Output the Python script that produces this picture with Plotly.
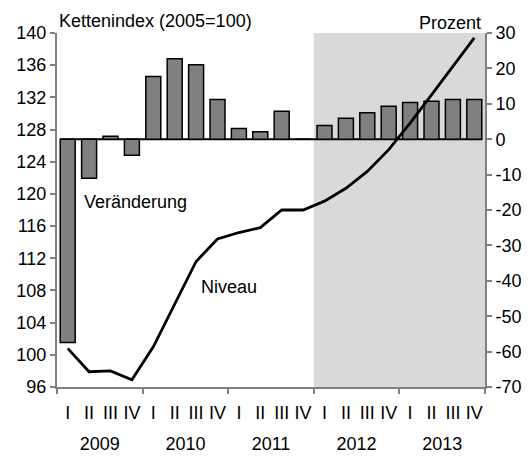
import plotly.graph_objects as go

# quarters 2009 Q1 .. 2013 Q4
years = ["2009", "2010", "2011", "2012", "2013"]
quarters = ["I", "II", "III", "IV"]

# change in percent (right axis)
veraenderung = [-57.4, -11.0, 0.8, -4.5, 17.7, 22.7, 21.0, 11.2,
                3.0, 2.1, 7.9, 0.0, 3.9, 5.9, 7.5, 9.3,
                10.4, 10.7, 11.2, 11.2]
# chain index 2005=100 (left axis)
niveau = [100.8, 97.9, 98.0, 96.9, 101.0, 106.2, 111.6, 114.4,
          115.2, 115.8, 118.0, 118.0, 119.1, 120.7, 122.8, 125.5,
          128.8, 132.3, 135.8, 139.4]

# right axis ticks (plain hyphen as in the original)
pct_ticks = [30, 20, 10, 0, -10, -20, -30, -40, -50, -60, -70]
pct_labels = ["30", "20", "10", "0", "-10", "-20", "-30", "-40", "-50", "-60", "-70"]

n = len(niveau)
xpos = list(range(n))
qlabels = [quarters[i % 4] for i in range(n)]
year_centers = [i * 4 + 1.5 for i in range(len(years))]
year_bounds = [i * 4 - 0.5 for i in range(len(years) + 1)]

font = "Liberation Sans, Arial, sans-serif"
gray = "#808080"
fs = 18

fig = go.Figure()

# bars on the percent axis (y), line on the index axis (y2) so it sits on top
fig.add_trace(go.Bar(
    x=xpos, y=veraenderung, width=0.7,
    marker=dict(color=gray, line=dict(color="black", width=1.5)),
    xaxis="x", yaxis="y",
))
fig.add_trace(go.Scatter(
    x=xpos, y=niveau, mode="lines",
    line=dict(color="black", width=2.8),
    xaxis="x", yaxis="y2",
))

# dummy traces so the extra x axes get drawn
fig.add_trace(go.Scatter(x=[None], y=[None], xaxis="x2", yaxis="y", showlegend=False))
fig.add_trace(go.Scatter(x=[None], y=[None], xaxis="x3", yaxis="y", showlegend=False))

xr = [-0.5, n - 0.5]
common = dict(showgrid=False, zeroline=False, automargin=False)
# page body has an 8px margin, so the figure is a bit smaller than the window
fig.update_layout(
    width=523, height=448,
    margin=dict(l=49, r=46, t=25, b=69),
    paper_bgcolor="white", plot_bgcolor="white",
    showlegend=False,
    font=dict(family=font, size=fs, color="black"),
    xaxis=dict(range=xr, tickvals=year_bounds, ticktext=[""] * len(year_bounds),
               ticks="outside", ticklen=5, tickcolor=gray, tickwidth=1.5,
               showline=True, linecolor=gray, linewidth=2, **common),
    xaxis2=dict(range=xr, overlaying="x", side="bottom", anchor="y",
                tickvals=xpos, ticktext=qlabels, ticks="",
                ticklabelstandoff=13, showline=False, **common),
    xaxis3=dict(range=xr, overlaying="x", side="bottom", anchor="y",
                tickvals=year_centers, ticktext=years, ticks="",
                ticklabelstandoff=44, showline=False, **common),
    yaxis=dict(range=[-70, 30], tickvals=pct_ticks, ticktext=pct_labels, side="right",
               ticks="outside", ticklen=5, tickcolor=gray, tickwidth=1.5,
               showline=True, linecolor=gray, linewidth=2, **common),
    yaxis2=dict(range=[96, 140], dtick=4, side="left", overlaying="y",
                ticks="outside", ticklen=5, tickcolor=gray, tickwidth=1.5,
                showline=True, linecolor=gray, linewidth=2, **common),
)

# forecast shading
fig.add_shape(type="rect", xref="x", yref="paper", x0=11.5, x1=n - 0.5, y0=0, y1=1,
              fillcolor="#d9d9d9", line=dict(width=0), layer="below")
# zero line of the bars
fig.add_shape(type="line", xref="x", yref="y", x0=-0.35, x1=n - 0.65, y0=0, y1=0,
              line=dict(color="black", width=2), layer="between")

fig.add_annotation(text="Kettenindex (2005=100)", xref="paper", yref="paper",
                   x=0.0, y=1.0, xanchor="left", yanchor="bottom", showarrow=False,
                   yshift=0)
fig.add_annotation(text="Prozent", xref="paper", yref="paper",
                   x=0.995, y=1.0, xanchor="right", yanchor="bottom", showarrow=False,
                   yshift=-2)
fig.add_annotation(text="Veränderung", xref="x", yref="y2", x=0.67, y=119.0,
                   xanchor="left", showarrow=False)
fig.add_annotation(text="Niveau", xref="x", yref="y2", x=6.14, y=108.4,
                   xanchor="left", showarrow=False)

fig.write_html("out.html")
